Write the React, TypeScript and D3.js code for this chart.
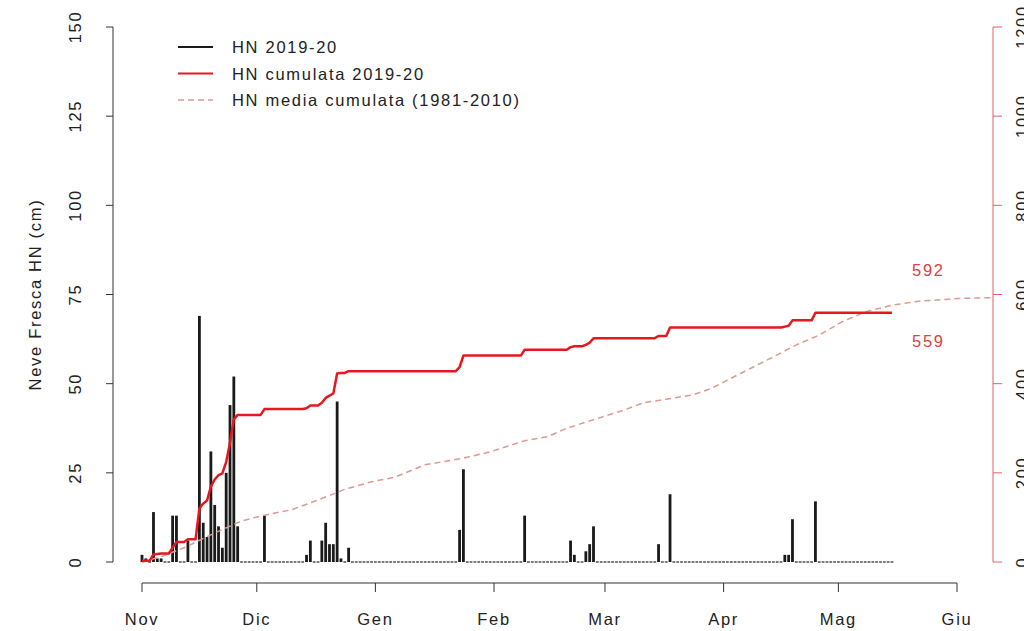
import React from 'react';
import * as d3 from 'd3';

// Daily fresh snow HN 2019-20 (cm), non-zero days
const hnDates = [
  '2019-11-01', '2019-11-02', '2019-11-04', '2019-11-05', '2019-11-06',
  '2019-11-09', '2019-11-10', '2019-11-13', '2019-11-16', '2019-11-17',
  '2019-11-18', '2019-11-19', '2019-11-20', '2019-11-21', '2019-11-22',
  '2019-11-23', '2019-11-24', '2019-11-25', '2019-11-26',
  '2019-12-03', '2019-12-14', '2019-12-15', '2019-12-18', '2019-12-19',
  '2019-12-20', '2019-12-21', '2019-12-22', '2019-12-23', '2019-12-25',
  '2020-01-23', '2020-01-24', '2020-02-09', '2020-02-21', '2020-02-22',
  '2020-02-25', '2020-02-26', '2020-02-27', '2020-03-15', '2020-03-18',
  '2020-04-17', '2020-04-18', '2020-04-19', '2020-04-25',
];
const hnValues = [
  2, 1, 14, 1, 1,
  13, 13, 6, 69, 11,
  7, 31, 16, 10, 4,
  25, 44, 52, 10,
  13, 2, 6, 6, 11,
  5, 5, 45, 1, 4,
  9, 26, 13, 6, 2,
  3, 5, 10, 5, 19,
  2, 2, 12, 17,
];
const seasonStart = '2019-11-01';
const seasonEnd = '2020-05-15';

// Mean cumulative HN 1981-2010 (cm)
const meanDates = [
  '2019-11-01', '2019-11-06', '2019-11-12', '2019-11-20', '2019-11-27',
  '2019-12-03', '2019-12-10', '2019-12-17', '2019-12-24', '2019-12-31',
  '2020-01-06', '2020-01-14', '2020-01-24', '2020-01-31', '2020-02-09',
  '2020-02-15', '2020-02-20', '2020-02-27', '2020-03-06', '2020-03-11',
  '2020-03-17', '2020-03-24', '2020-03-29', '2020-04-02', '2020-04-08',
  '2020-04-14', '2020-04-20', '2020-04-26', '2020-05-02', '2020-05-08',
  '2020-05-15', '2020-05-22', '2020-05-29', '2020-06-01', '2020-06-10',
];
const meanValues = [
  0, 12, 32, 65, 92,
  105, 117, 139, 163, 180,
  190, 218, 233, 247, 272,
  281, 300, 319, 341, 357,
  365, 375, 390, 408, 434,
  460, 487, 509, 539, 561,
  576, 585, 589, 591, 593,
];

const monthTicks = ['2019-11-01', '2019-12-01', '2020-01-01', '2020-02-01', '2020-03-01', '2020-04-01', '2020-05-01', '2020-06-01'];
const monthLabels = ['Nov', 'Dic', 'Gen', 'Feb', 'Mar', 'Apr', 'Mag', 'Giu'];
const leftTicks = [0, 25, 50, 75, 100, 125, 150];
const rightTicks = [0, 200, 400, 600, 800, 1000, 1200];
const legendLabels = ['HN 2019-20', 'HN cumulata 2019-20', 'HN media cumulata (1981-2010)'];
const seasonTotal = 559;
const meanTotal = 592;
const yLabel = 'Neve Fresca HN (cm)';

const parse = d3.timeParse('%Y-%m-%d');

const FONT = "'Liberation Sans', Arial, Helvetica, sans-serif";
const FS = 16.5;
const LS = 1.7;
const RED = '#e8161e';
const DASH = '#dc9a90';

export default function App() {
  const W = 1024, H = 631;
  const x = d3.scaleTime()
    .domain([parse('2019-11-01')!, parse('2020-06-01')!])
    .range([142, 957]);
  const yL = d3.scaleLinear().domain([0, 150]).range([562, 27]);
  const yR = d3.scaleLinear().domain([0, 1200]).range([562, 27]);

  const valueByDay = new Map<string, number>();
  hnDates.forEach((d, i) => valueByDay.set(d, hnValues[i]));
  const fmt = d3.timeFormat('%Y-%m-%d');
  const days = d3.timeDay.range(parse(seasonStart)!, d3.timeDay.offset(parse(seasonEnd)!, 1));
  const daily = days.map((d) => ({ date: d, v: valueByDay.get(fmt(d)) ?? 0 }));
  let acc = 0;
  const cum = daily.map((d) => { acc += d.v; return { date: d.date, c: acc }; });

  const redLine = d3.line<{ date: Date; c: number }>()
    .x((d) => x(d.date))
    .y((d) => yR(d.c))(cum) || '';

  const meanData = meanDates.map((d, i) => ({ date: parse(d)!, c: meanValues[i] }));
  const meanLine = d3.line<{ date: Date; c: number }>()
    .x((d) => x(d.date))
    .y((d) => yR(d.c))(meanData) || '';

  const x0 = 113;
  const xR = 993;
  const axisY = 583;
  const lastCum = cum[cum.length - 1];

  const textStyle: React.CSSProperties = { fontFamily: FONT, fontSize: FS, letterSpacing: LS };

  return (
    <svg width={W} height={H} style={{ position: 'absolute', left: 0, top: 0, background: '#fff' }}>
      {/* bars */}
      <g>
        {daily.map((d, i) => {
          const top = yL(d.v);
          const h = Math.max(yL(0) - top, 1.4);
          return (
            <rect key={i} x={x(d.date) - 1.4} y={yL(0) - h + (d.v > 0 ? 0 : 0.7)} width={2.8} height={h}
              fill={d.v > 0 ? '#1a1a1a' : '#444'} />
          );
        })}
      </g>
      {/* mean cumulative */}
      <path d={meanLine} fill="none" stroke={DASH} strokeWidth={1.5} strokeDasharray="6,4" />
      {/* season cumulative */}
      <path d={redLine} fill="none" stroke={RED} strokeWidth={2.5} strokeLinejoin="round" />

      {/* totals */}
      <text x={912} y={yR(meanTotal) - 22} fill="#e2403f" style={textStyle}>{meanTotal}</text>
      <text x={912} y={yR(lastCum.c) + 34} fill="#e2403f" style={textStyle}>{seasonTotal}</text>

      {/* x axis */}
      <g stroke="#333" strokeWidth={1}>
        <line x1={x(parse(monthTicks[0])!)} x2={x(parse(monthTicks[monthTicks.length - 1])!)} y1={axisY} y2={axisY} />
        {monthTicks.map((t) => (
          <line key={t} x1={x(parse(t)!)} x2={x(parse(t)!)} y1={axisY} y2={axisY + 9} />
        ))}
      </g>
      {monthTicks.map((t, i) => (
        <text key={t} x={x(parse(t)!)} y={625} textAnchor="middle" fill="#222" style={textStyle}>{monthLabels[i]}</text>
      ))}

      {/* left axis */}
      <g stroke="#333" strokeWidth={1}>
        <line x1={x0} x2={x0} y1={yL(0)} y2={yL(150)} />
        {leftTicks.map((t) => (
          <line key={t} x1={x0 - 7} x2={x0} y1={yL(t)} y2={yL(t)} />
        ))}
      </g>
      {leftTicks.map((t) => (
        <text key={t} transform={`translate(81,${yL(t)}) rotate(-90)`} textAnchor="middle" fill="#222" style={textStyle}>{t}</text>
      ))}
      <text transform={`translate(41,${(yL(0) + yL(150)) / 2}) rotate(-90)`} textAnchor="middle" fill="#222" style={textStyle}>{yLabel}</text>

      {/* right axis */}
      <g stroke="#ec5b66" strokeWidth={1}>
        <line x1={xR} x2={xR} y1={yR(0)} y2={yR(1200)} />
        {rightTicks.map((t) => (
          <line key={t} x1={xR} x2={xR + 9} y1={yR(t)} y2={yR(t)} />
        ))}
      </g>
      {rightTicks.map((t) => (
        <text key={t} transform={`translate(1028,${yR(t)}) rotate(-90)`} textAnchor="middle" fill="#222" style={textStyle}>{t}</text>
      ))}

      {/* legend */}
      {legendLabels.map((l, i) => {
        const cy = 47 + i * 26.5;
        return (
          <g key={l}>
            <line x1={178} x2={213} y1={cy} y2={cy}
              stroke={i === 0 ? '#1a1a1a' : i === 1 ? RED : DASH}
              strokeWidth={i === 2 ? 1.5 : 2.2}
              strokeDasharray={i === 2 ? '6,4' : undefined} />
            <text x={232} y={cy + 6} fill="#222" style={textStyle}>{l}</text>
          </g>
        );
      })}
    </svg>
  );
}
